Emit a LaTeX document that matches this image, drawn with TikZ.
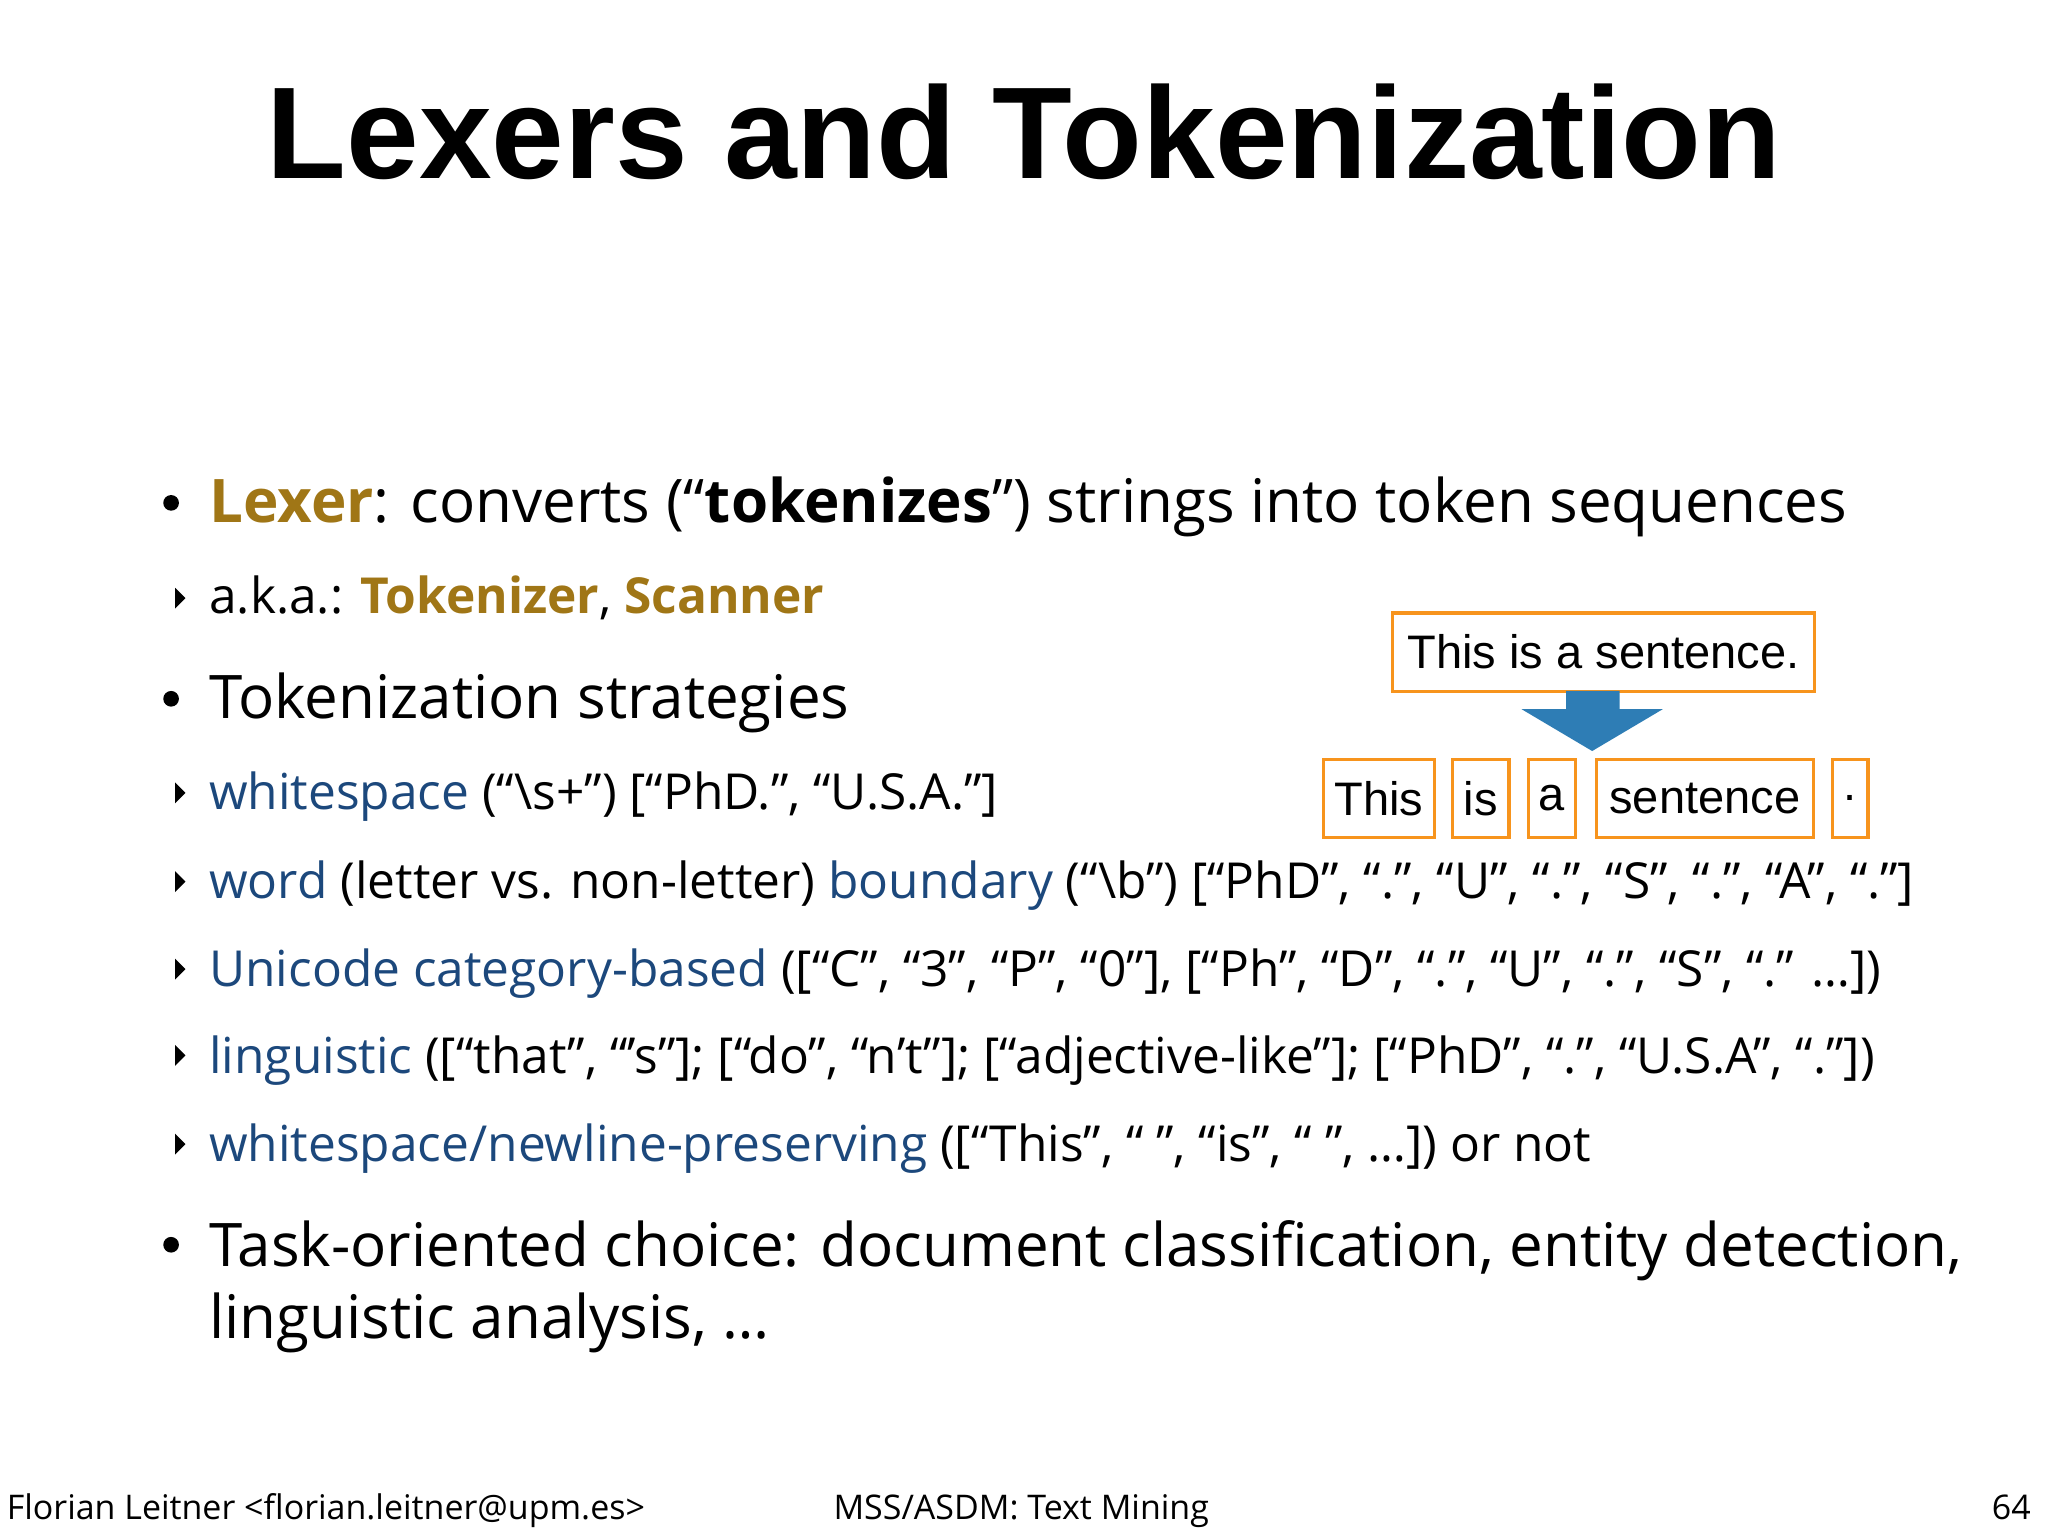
\documentclass[tikz,border=0pt]{standalone}
\usepackage{fontspec}
\setmainfont{Open Sans}
\newfontfamily\boxfont{Liberation Sans}
\newfontfamily\titlefont{Liberation Sans}
\definecolor{gold}{RGB}{160,118,22}
\definecolor{dblue}{RGB}{28,72,124}
\definecolor{orng}{RGB}{247,148,29}
\definecolor{arrblue}{RGB}{46,125,181}
\begin{document}
\begin{tikzpicture}[x=1pt,y=-1pt,
  txt/.style={anchor=base west,inner sep=0pt,font=\fontsize{46}{50}\selectfont},
  subtxt/.style={anchor=base west,inner sep=0pt,font=\fontsize{38}{44}\selectfont},
  tok/.style={draw=orng,line width=2.5pt,inner sep=0pt,minimum height=60pt,font=\boxfont\fontsize{36}{40}\selectfont,anchor=north west},
  foot/.style={anchor=base west,inner sep=0pt,font=\fontsize{26}{30}\selectfont}]
\useasboundingbox (0,0) rectangle (1568,1176);
\fill[white] (0,0) rectangle (1568,1176);
\node[anchor=base,inner sep=0pt,font=\titlefont\bfseries\fontsize{100}{110}\selectfont] (title) at (784,137) {Lexers and Tokenization};
% bullets
\foreach \yy in {385,535,953} \fill (131,\yy) circle (6);
\foreach \yy in {458,607,675,742,808,876} \fill (134,\yy-8) -- (142,\yy) -- (134,\yy+8) -- cycle;
\node[txt] (l1) at (160,400) {\textcolor{gold}{\textbf{Lexer}}: converts (“\textbf{tokenizes}”) strings into token sequences};
\node[subtxt] (l2) at (160,470) {a.k.a.: \textcolor{gold}{\textbf{Tokenizer}}, \textcolor{gold}{\textbf{Scanner}}};
\node[txt] (l3) at (160,550) {Tokenization strategies};
\node[subtxt] (s1) at (160,620) {\textcolor{dblue}{whitespace} (“\textbackslash s+”) [“PhD.”, “U.S.A.”]};
\node[subtxt] (s2) at (160,688) {\textcolor{dblue}{word} (letter vs. non-letter) \textcolor{dblue}{boundary} (“\textbackslash b”) [“PhD”, “.”, “U”, “.”, “S”, “.”, “A”, “.”]};
\node[subtxt] (s3) at (160,755) {\textcolor{dblue}{Unicode category-based} ([“C”, “3”, “P”, “0”], [“Ph”, “D”, “.”, “U”, “.”, “S”, “.” …])};
\node[subtxt] (s4) at (160,822) {\textcolor{dblue}{linguistic} ([“that”, “’s”]; [“do”, “n’t”]; [“adjective-like”]; [“PhD”, “.”, “U.S.A”, “.”])};
\node[subtxt] (s5) at (160,889) {\textcolor{dblue}{whitespace/newline-preserving} ([“This”, “ ”, “is”, “ ”, …]) or not};
\node[txt] (l4) at (160,970) {Task-oriented choice: document classification, entity detection,};
\node[txt] (l5) at (160,1025) {linguistic analysis, …};
% token boxes
\node[tok,minimum width=323pt] (sent) at (1065,468) {This is a sentence.};
\node[tok,minimum width=85pt] (t1) at (1012,580) {This};
\node[tok,minimum width=43pt] (t2) at (1111,580) {is};
\node[tok,minimum width=36pt] (t3) at (1169,580) {a};
\node[tok,minimum width=166pt] (t4) at (1221,580) {sentence};
\node[tok,minimum width=27pt] (t5) at (1402,580) {.};
\fill[arrblue] (1199,529) -- (1240,529) -- (1240,543) -- (1273,543) -- (1219,575) -- (1165,543) -- (1199,543) -- cycle;
% footer
\node[foot] (f1) at (5,1163) {Florian Leitner <florian.leitner@upm.es>};
\node[foot] (f2) at (638,1163) {MSS/ASDM: Text Mining};
\node[foot,anchor=base east] (f3) at (1555,1163) {64};
\end{tikzpicture}
\end{document}
